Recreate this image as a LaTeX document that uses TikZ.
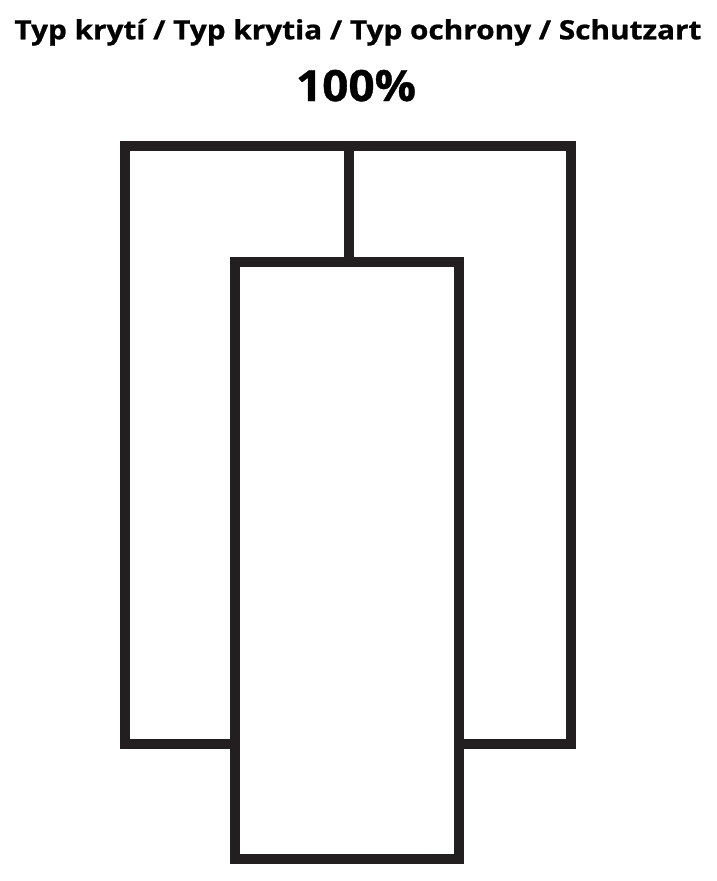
\documentclass[tikz,border=0pt]{standalone}
\usepackage{fontspec}
\setmainfont{Open Sans}[BoldFeatures={FakeBold=0.8}]
\usepackage{graphicx}
\definecolor{linecol}{RGB}{35,31,32}
\begin{document}
\begin{tikzpicture}[x=1pt,y=-1pt,
  box/.style={draw=linecol,line width=10pt,fill=white,inner sep=0pt,outer sep=0pt,rectangle},
  label/.style={anchor=base,inner sep=0pt,outer sep=0pt,text=black}]
\useasboundingbox[fill=white] (0,0) rectangle (716,881);
\node[label] (title) at (358,39.3) {\resizebox{687pt}{\height}{\fontsize{26.5pt}{30pt}\selectfont\bfseries Typ krytí / Typ krytia / Typ ochrony / Schutzart}};
\node[label] (pct) at (356,101) {\resizebox{120pt}{\height}{\fontsize{43pt}{48pt}\selectfont\bfseries 100\%}};
\node[box,minimum width=446pt,minimum height=598pt] (outer) at (348,445) {};
\draw[linecol,line width=10pt] (348.5,146) coordinate (dtop) -- (dtop |- 0,262) coordinate (dbot);
\node[box,minimum width=224pt,minimum height=597pt] (inner) at (347,560.5) {};
\end{tikzpicture}
\end{document}
